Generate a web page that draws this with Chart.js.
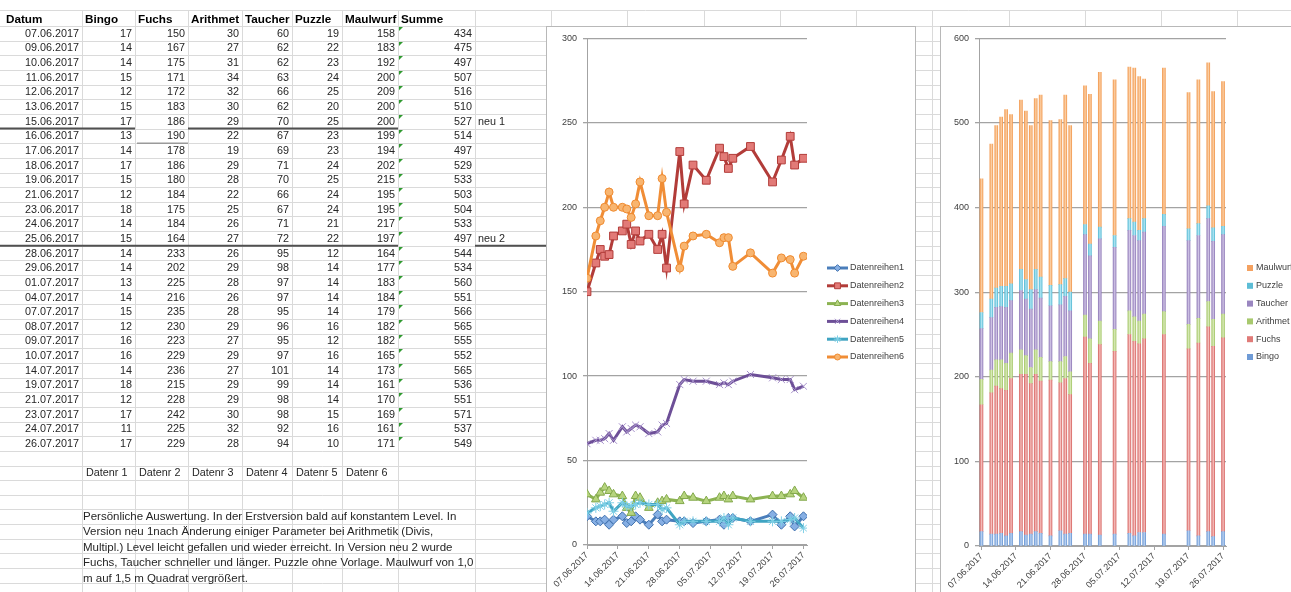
<!DOCTYPE html>
<html lang="de">
<head>
<meta charset="utf-8">
<title>Auswertung Spiele</title>
<script src="https://cdn.jsdelivr.net/npm/chart.js@4.4.1/dist/chart.umd.min.js"></script>
<style>
  html, body { margin: 0; padding: 0; background: #fff; }
  body { width: 1291px; height: 592px; overflow: hidden; position: relative;
         font-family: "Liberation Sans", Arial, sans-serif; }
  #sheet { position: absolute; left: 0; top: 0; }
  .cell { position: absolute; white-space: nowrap; font-size: 10.8px; color: #262626;
          height: 15px; line-height: 15px; }
  .num { text-align: right; }
  .hdr { font-weight: bold; font-size: 11.7px; color: #000; }
  .note { font-size: 11.5px; }
  .frame { position: absolute; background: #fff; border: 1px solid #b8b8b8; }
  canvas.chart { position: absolute; }
</style>
</head>
<body>
<canvas id="sheet" width="1291" height="592"></canvas>
<div id="cells"></div>
<div class="frame" style="left:546px; top:26px; width:368px; height:600px;"></div>
<div class="frame" style="left:940px; top:26px; width:400px; height:600px;"></div>
<canvas id="lineChart" class="chart" width="368" height="565" style="left:547px; top:27px;"></canvas>
<canvas id="barChart" class="chart" width="380" height="565" style="left:941px; top:27px;"></canvas>

<script>
// ---- data -------------------------------------------------------------
const dates = ['07.06.2017','09.06.2017','10.06.2017','11.06.2017','12.06.2017','13.06.2017',
  '15.06.2017','16.06.2017','17.06.2017','18.06.2017','19.06.2017','21.06.2017','23.06.2017',
  '24.06.2017','25.06.2017','28.06.2017','29.06.2017','01.07.2017','04.07.2017','07.07.2017',
  '08.07.2017','09.07.2017','10.07.2017','14.07.2017','19.07.2017','21.07.2017','23.07.2017',
  '24.07.2017','26.07.2017'];
const bingo    = [17,14,14,15,12,15,17,13,14,17,15,12,18,14,15,14,14,13,14,15,12,16,16,14,18,12,17,11,17];
const fuchs    = [150,167,175,171,172,183,186,190,178,186,180,184,175,184,164,233,202,225,216,235,230,223,229,236,215,228,242,225,229];
const arithmet = [30,27,31,34,32,30,29,22,19,29,28,22,25,26,27,26,29,28,26,28,29,27,29,27,29,29,30,32,28];
const taucher  = [60,62,62,63,66,62,70,67,69,71,70,66,67,71,72,95,98,97,97,95,96,95,97,101,99,98,98,92,94];
const puzzle   = [19,22,23,24,25,20,25,23,23,24,25,24,24,21,22,12,14,14,14,14,16,12,16,14,14,14,15,16,10];
const maulwurf = [158,183,192,200,209,200,200,199,194,202,215,195,195,217,197,164,177,183,184,179,182,182,165,173,161,170,169,161,171];
const summe    = [434,475,497,507,516,510,527,514,497,529,533,503,504,533,497,544,534,560,551,566,565,555,552,565,536,551,571,537,549];

const headers     = ['Datum','Bingo','Fuchs','Arithmet','Taucher','Puzzle','Maulwurf','Summe'];
const gameNames   = ['Bingo','Fuchs','Arithmet','Taucher','Puzzle','Maulwurf'];
const lineNames   = ['Datenreihen1','Datenreihen2','Datenreihen3','Datenreihen4','Datenreihen5','Datenreihen6'];
const seriesTags  = ['Datenr 1','Datenr 2','Datenr 3','Datenr 4','Datenr 5','Datenr 6'];
const versionDates = ['15.06.2017','25.06.2017'];
const versionTags  = ['neu 1','neu 2'];
const tickLabels  = ['07.06.2017','14.06.2017','21.06.2017','28.06.2017','05.07.2017','12.07.2017','19.07.2017','26.07.2017'];
const commentLines = [
  'Persönliche Auswertung. In der Erstversion bald auf konstantem Level. In',
  'Version neu 1nach Änderung einiger Parameter bei Arithmetik (Divis,',
  'Multipl.) Level leicht gefallen und wieder erreicht. In Version neu 2 wurde',
  'Fuchs, Taucher schneller und länger. Puzzle ohne Vorlage. Maulwurf  von 1,0',
  'm auf 1,5 m Quadrat vergrößert.'
];
const series = [bingo, fuchs, arithmet, taucher, puzzle, maulwurf];

// ---- spreadsheet layout -------------------------------------------------
const COLS = [0, 82, 135, 188, 242, 292, 342, 398, 475];
const EXTRA_COLS = [551, 627, 704, 780, 856, 932, 1009, 1085, 1161, 1237];
const HEAD_TOP = 10, ROW0 = 26, ROW_H = 14.65;
const rowCenter = i => ROW0 + (i + 0.5) * ROW_H;

function dayIndex(s) {
  const p = s.split('.').map(Number), b = dates[0].split('.').map(Number);
  return Math.round((Date.UTC(p[2], p[1] - 1, p[0]) - Date.UTC(b[2], b[1] - 1, b[0])) / 864e5);
}
const days = dates.map(dayIndex);
const tickDays = tickLabels.map(dayIndex);

// grid of the worksheet
(function drawSheet() {
  const g = document.getElementById('sheet').getContext('2d');
  g.strokeStyle = '#dadada';
  g.lineWidth = 1;
  const ys = [HEAD_TOP, ROW0];
  for (let k = 1; ROW0 + k * ROW_H < 592; k++) ys.push(ROW0 + k * ROW_H);
  ys.forEach(y => { const yy = Math.round(y) + 0.5; g.beginPath(); g.moveTo(0, yy); g.lineTo(1291, yy); g.stroke(); });
  COLS.slice(1).concat(EXTRA_COLS).forEach(x => {
    g.beginPath(); g.moveTo(x + 0.5, HEAD_TOP); g.lineTo(x + 0.5, 592); g.stroke();
  });
  // version separators
  g.strokeStyle = '#505050'; g.lineWidth = 2;
  const seg = (x1, x2, y) => { g.beginPath(); g.moveTo(x1, y); g.lineTo(x2, y); g.stroke(); };
  const y1 = ROW0 + 7 * ROW_H, y2 = ROW0 + 15 * ROW_H;
  seg(0, 135, y1); seg(188, 398, y1);
  seg(0, 398, y2); seg(475, 547, y2);
  g.strokeStyle = '#9a9a9a'; g.lineWidth = 1.5;
  seg(137, 188, ROW0 + 8 * ROW_H);
  // small green corner flags in the sum column
  g.fillStyle = '#2f9a2f';
  dates.forEach((d, i) => {
    const t = Math.round(ROW0 + i * ROW_H) + 1;
    g.beginPath(); g.moveTo(399, t); g.lineTo(403, t); g.lineTo(399, t + 4); g.closePath(); g.fill();
  });
})();

// cell texts
(function fillCells() {
  const host = document.getElementById('cells');
  const add = (txt, left, cy, cls, width) => {
    const d = document.createElement('div');
    d.className = 'cell ' + (cls || '');
    d.textContent = txt;
    d.style.left = left + 'px';
    d.style.top = (cy - 7.5) + 'px';
    if (width) d.style.width = width + 'px';
    host.appendChild(d);
  };
  headers.forEach((h, c) => add(h, (c === 0 ? 6 : COLS[c] + 3), 18, 'hdr'));
  dates.forEach((d, i) => {
    const cy = rowCenter(i);
    const row = [d].concat(series.map(s => s[i]), [summe[i]]);
    row.forEach((v, c) => add(String(v), COLS[c], cy, 'num', COLS[c + 1] - COLS[c] - 3));
    const v = versionDates.indexOf(d);
    if (v >= 0) add(versionTags[v], 478, cy, '');
  });
  seriesTags.forEach((t, c) => add(t, COLS[c + 1] + 4, rowCenter(30), ''));
  commentLines.forEach((t, k) => add(t, 83, 516 + k * 15.5, 'note'));
})();

// ---- charts -------------------------------------------------------------
const FONT = '"Liberation Sans", Arial, sans-serif';
const lineStyles = [
  { line: '#4a7ebb', fill: '#86afe4', edge: '#3f70ad', marker: 'rectRot',  r: 4.5 },
  { line: '#b23c39', fill: '#e27a77', edge: '#b23c39', marker: 'rect',     r: 5.5 },
  { line: '#8cb352', fill: '#b6d47e', edge: '#83a94c', marker: 'triangle', r: 5   },
  { line: '#6d4f97', fill: '#b7a4d6', edge: '#a792cb', marker: 'crossRot', r: 5   },
  { line: '#3fa4c2', fill: '#8fd8ec', edge: '#80d0e6', marker: 'star',     r: 5   },
  { line: '#f08d36', fill: '#f8b570', edge: '#ef8a2f', marker: 'circle',   r: 4   }
];
const barStyles = [
  { base: '#6f9bd6', light: '#bcd3f2', key: '#6f9bd6' },
  { base: '#d96c69', light: '#f6c0be', key: '#e07b78' },
  { base: '#a8c96e', light: '#d9ebb9', key: '#a8c96e' },
  { base: '#9580bb', light: '#d0c4e6', key: '#9a86c0' },
  { base: '#5dbdd6', light: '#b0e6f3', key: '#5dbdd6' },
  { base: '#f39d55', light: '#fbd0a6', key: '#f4a160' }
];

// legend placed to the right of the plot, drawn onto the chart canvas
const sideLegend = {
  id: 'sideLegend',
  afterDraw(chart, args, o) {
    const ctx = chart.ctx;
    ctx.save();
    ctx.font = '9px ' + FONT;
    ctx.textBaseline = 'middle';
    ctx.fillStyle = '#404040';
    o.items.forEach((it, k) => {
      const y = o.y + k * o.step;
      if (o.kind === 'line') {
        ctx.strokeStyle = it.style.line; ctx.lineWidth = 3;
        ctx.beginPath(); ctx.moveTo(o.x, y); ctx.lineTo(o.x + 21, y); ctx.stroke();
        ctx.fillStyle = it.style.fill; ctx.strokeStyle = it.style.edge; ctx.lineWidth = 1;
        Chart.helpers.drawPoint(ctx, { pointStyle: it.style.marker, radius: it.style.r * 0.75, rotation: 0, borderWidth: 1 }, o.x + 10.5, y);
        ctx.fillStyle = '#404040';
        ctx.fillText(it.label, o.x + 23, y);
      } else {
        ctx.fillStyle = it.style.key;
        ctx.fillRect(o.x, y - 3, 6, 6);
        ctx.fillStyle = '#404040';
        ctx.fillText(it.label, o.x + 9, y);
      }
    });
    ctx.restore();
  }
};

const axisGrey = '#a3a3a3';
function xAxis(min, max, height) {
  return {
    type: 'linear', min, max, offset: false, stacked: true,
    afterBuildTicks: a => { a.ticks = tickDays.map(v => ({ value: v })); },
    afterFit: s => { s.height = height; },
    grid: { drawOnChartArea: false, color: axisGrey, tickLength: 4, offset: false },
    border: { color: axisGrey, width: 1 },
    ticks: { autoSkip: false, maxRotation: 45, minRotation: 45, padding: 1,
             font: { size: 9, family: FONT }, color: '#404040',
             callback: (v, i) => tickLabels[i] }
  };
}
function yAxis(max, step, width) {
  return {
    min: 0, max, stacked: true,
    afterFit: s => { s.width = width; },
    ticks: { stepSize: step, padding: 6, font: { size: 9, family: FONT }, color: '#404040' },
    grid: { color: axisGrey, lineWidth: 1.3, tickLength: 4 },
    border: { color: axisGrey, width: 1 }
  };
}

new Chart(document.getElementById('lineChart'), {
  type: 'line',
  data: {
    datasets: series.map((vals, i) => {
      const st = lineStyles[i];
      return {
        label: lineNames[i],
        data: days.map((d, j) => ({ x: d, y: vals[j] })),
        borderColor: st.line, borderWidth: 3, tension: 0, fill: false,
        pointStyle: st.marker, pointRadius: st.r,
        pointBackgroundColor: st.fill, pointBorderColor: st.edge, pointBorderWidth: 1,
        order: series.length - 1 - i
      };
    })
  },
  options: {
    responsive: false, animation: false, devicePixelRatio: 1,
    layout: { padding: { top: 11, right: 108, left: 0, bottom: 0 } },
    plugins: {
      legend: { display: false }, tooltip: { enabled: false },
      sideLegend: { kind: 'line', x: 280, y: 241, step: 17.8,
        items: lineNames.map((n, i) => ({ label: n, style: lineStyles[i] })) }
    },
    scales: {
      x: Object.assign(xAxis(0, 49.8, 47), { stacked: false }),
      y: Object.assign(yAxis(300, 50, 40), { stacked: false })
    }
  },
  plugins: [sideLegend]
});

function barFill(st) {
  return ctx => {
    const xs = ctx.chart.scales && ctx.chart.scales.x;
    if (!xs || !ctx.raw || !isFinite(xs.left)) return st.base;
    const px = xs.getPixelForValue(ctx.raw.x);
    const g = ctx.chart.ctx.createLinearGradient(px - 1.5, 0, px + 1.5, 0);
    g.addColorStop(0, st.base);
    g.addColorStop(0.55, st.light);
    g.addColorStop(1, st.base);
    return g;
  };
}

new Chart(document.getElementById('barChart'), {
  type: 'bar',
  data: {
    datasets: series.map((vals, i) => ({
      label: gameNames[i],
      data: days.map((d, j) => ({ x: d, y: vals[j] })),
      backgroundColor: barFill(barStyles[i]),
      borderWidth: 0, barThickness: 3, stack: 'games'
    }))
  },
  options: {
    responsive: false, animation: false, devicePixelRatio: 1,
    layout: { padding: { top: 10, right: 95, left: 0, bottom: 0 } },
    plugins: {
      legend: { display: false }, tooltip: { enabled: false },
      sideLegend: { kind: 'box', x: 306, y: 241, step: 17.8,
        items: gameNames.map((n, i) => ({ label: n, style: barStyles[i] })).reverse() }
    },
    scales: {
      x: xAxis(-0.5, 49.6, 46),
      y: yAxis(600, 100, 38)
    }
  },
  plugins: [sideLegend]
});
</script>
</body>
</html>
